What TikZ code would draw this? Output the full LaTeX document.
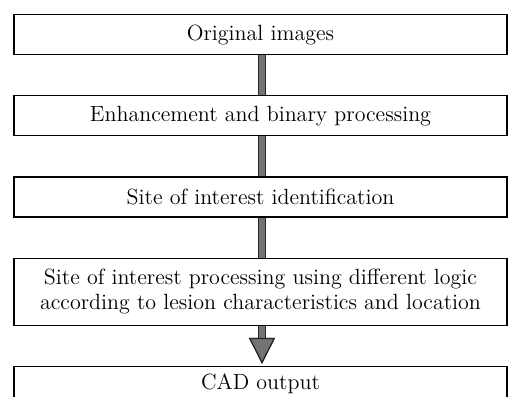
\documentclass[tikz,border=0pt]{standalone}
\usetikzlibrary{positioning}
\usetikzlibrary{arrows.meta}

\begin{document}
\begin{tikzpicture}[
      x=0.5pt, y=-0.5pt,
      node distance=20pt,
      box/.style={draw,rectangle,minimum width=246.5pt,
                  minimum height=20pt,align=center,inner sep=0pt,
                  line width=0.6pt,font=\fontsize{11}{12.6}\selectfont},
      bar/.style={draw=black!55, line width=3pt,
                  preaction={draw=black!85, line width=4.2pt}},
      flow/.style={bar, -{Triangle[width=13pt,length=13pt,line width=0.6pt,
                  color=black!85,fill=black!55]}, shorten >=1pt}
    ]
    \useasboundingbox (0,0) rectangle (512,396);

    % Processing steps
    \node[box, anchor=north] (orig) at (260.5,14) {Original images};
    \node[box, below=of orig] (enh) {Enhancement and binary processing};
    \node[box, below=of enh] (site) {Site of interest identification};
    \node[box, below=of site, minimum height=33.5pt] (proc)
      {Site of interest processing using different logic\\according to lesion characteristics and location};
    \node[box, below=of proc, minimum height=22pt, text depth=6.9pt] (cad) {CAD output};

    % Connections
    \draw[bar] ([xshift=0.75pt]orig.south) -- ([xshift=0.75pt]enh.north);
    \draw[bar] ([xshift=0.75pt]enh.south) -- ([xshift=0.75pt]site.north);
    \draw[bar] ([xshift=0.75pt]site.south) -- ([xshift=0.75pt]proc.north);
    \draw[flow] ([xshift=0.75pt]proc.south) -- ([xshift=0.75pt]cad.north);

\end{tikzpicture}
\end{document}
